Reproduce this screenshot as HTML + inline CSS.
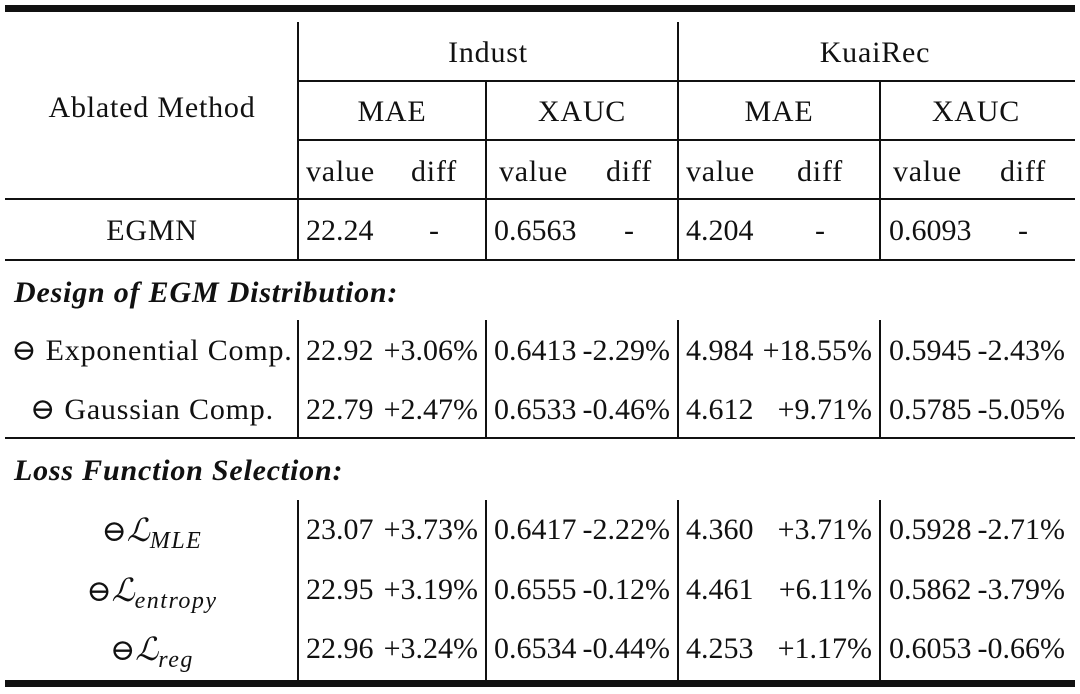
<!DOCTYPE html>
<html><head><meta charset="utf-8"><style>
body{margin:0;width:1080px;height:694px;background:#fff;position:relative;overflow:hidden;font-family:"Liberation Serif","DejaVu Serif",serif;color:#111;font-size:30px}
.h{position:absolute;background:#111;height:2px}
.v{position:absolute;background:#111;width:2px}
.t{position:absolute;line-height:30px;white-space:nowrap}
.w{letter-spacing:0.8px}
.c{transform:translateX(-50%)}
.r{transform:translateX(-100%)}
.sec{font-weight:bold;font-style:italic;letter-spacing:0.8px}
.L{font-family:"DejaVu Serif",serif;font-style:italic;font-size:32px}
sub{font-style:italic;font-size:24px;vertical-align:-7px;letter-spacing:1.5px}
</style></head><body>
<div class="h" style="left:5px;width:1070px;top:5px;height:7px"></div>
<div class="h" style="left:298px;width:777px;top:80px"></div>
<div class="h" style="left:298px;width:777px;top:139px"></div>
<div class="h" style="left:5px;width:1070px;top:198px"></div>
<div class="h" style="left:5px;width:1070px;top:259px"></div>
<div class="h" style="left:5px;width:1070px;top:437px"></div>
<div class="h" style="left:5px;width:1070px;top:680px;height:7px"></div>

<div class="v" style="left:297px;top:22px;height:238px"></div>
<div class="v" style="left:677px;top:22px;height:238px"></div>
<div class="v" style="left:485px;top:81px;height:179px"></div>
<div class="v" style="left:879px;top:81px;height:179px"></div>
<div class="v" style="left:297px;top:320px;height:118px"></div>
<div class="v" style="left:485px;top:320px;height:118px"></div>
<div class="v" style="left:677px;top:320px;height:118px"></div>
<div class="v" style="left:879px;top:320px;height:118px"></div>
<div class="v" style="left:297px;top:500px;height:180px"></div>
<div class="v" style="left:485px;top:500px;height:180px"></div>
<div class="v" style="left:677px;top:500px;height:180px"></div>
<div class="v" style="left:879px;top:500px;height:180px"></div>

<div class="t c w" style="left:152px;top:93px">Ablated Method</div>
<div class="t c w" style="left:488px;top:38px">Indust</div>
<div class="t c w" style="left:875px;top:38px">KuaiRec</div>
<div class="t c w" style="left:392px;top:97px">MAE</div>
<div class="t c w" style="left:582px;top:97px">XAUC</div>
<div class="t c w" style="left:779px;top:97px">MAE</div>
<div class="t c w" style="left:976px;top:97px">XAUC</div>

<div class="t w" style="left:306px;top:157px">value</div><div class="t c w" style="left:434px;top:157px">diff</div>
<div class="t w" style="left:499px;top:157px">value</div><div class="t c w" style="left:629px;top:157px">diff</div>
<div class="t w" style="left:686px;top:157px">value</div><div class="t c w" style="left:820px;top:157px">diff</div>
<div class="t w" style="left:893px;top:157px">value</div><div class="t c w" style="left:1023px;top:157px">diff</div>

<div class="t c w" style="left:152px;top:216px">EGMN</div>
<div class="t" style="left:306px;top:216px">22.24</div><div class="t c" style="left:434px;top:216px">-</div>
<div class="t" style="left:494px;top:216px">0.6563</div><div class="t c" style="left:629px;top:216px">-</div>
<div class="t" style="left:686px;top:216px">4.204</div><div class="t c" style="left:820px;top:216px">-</div>
<div class="t" style="left:889px;top:216px">0.6093</div><div class="t c" style="left:1023px;top:216px">-</div>

<div class="t sec" style="left:14px;top:278px">Design of EGM Distribution:</div>
<div class="t sec" style="left:14px;top:456px">Loss Function Selection:</div>

<div class="t c w" style="left:152px;top:336px">⊖ Exponential Comp.</div>
<div class="t" style="left:306px;top:336px">22.92</div><div class="t r" style="left:478px;top:336px">+3.06%</div>
<div class="t" style="left:494px;top:336px">0.6413</div><div class="t r" style="left:670px;top:336px">-2.29%</div>
<div class="t" style="left:686px;top:336px">4.984</div><div class="t r" style="left:872px;top:336px">+18.55%</div>
<div class="t" style="left:889px;top:336px">0.5945</div><div class="t r" style="left:1065px;top:336px">-2.43%</div>

<div class="t c w" style="left:152px;top:395px">⊖ Gaussian Comp.</div>
<div class="t" style="left:306px;top:395px">22.79</div><div class="t r" style="left:478px;top:395px">+2.47%</div>
<div class="t" style="left:494px;top:395px">0.6533</div><div class="t r" style="left:670px;top:395px">-0.46%</div>
<div class="t" style="left:686px;top:395px">4.612</div><div class="t r" style="left:872px;top:395px">+9.71%</div>
<div class="t" style="left:889px;top:395px">0.5785</div><div class="t r" style="left:1065px;top:395px">-5.05%</div>

<div class="t c" style="left:152px;top:515px">⊖<span class="L">ℒ</span><sub>MLE</sub></div>
<div class="t" style="left:306px;top:515px">23.07</div><div class="t r" style="left:478px;top:515px">+3.73%</div>
<div class="t" style="left:494px;top:515px">0.6417</div><div class="t r" style="left:670px;top:515px">-2.22%</div>
<div class="t" style="left:686px;top:515px">4.360</div><div class="t r" style="left:872px;top:515px">+3.71%</div>
<div class="t" style="left:889px;top:515px">0.5928</div><div class="t r" style="left:1065px;top:515px">-2.71%</div>

<div class="t c" style="left:152px;top:575px">⊖<span class="L">ℒ</span><sub>entropy</sub></div>
<div class="t" style="left:306px;top:575px">22.95</div><div class="t r" style="left:478px;top:575px">+3.19%</div>
<div class="t" style="left:494px;top:575px">0.6555</div><div class="t r" style="left:670px;top:575px">-0.12%</div>
<div class="t" style="left:686px;top:575px">4.461</div><div class="t r" style="left:872px;top:575px">+6.11%</div>
<div class="t" style="left:889px;top:575px">0.5862</div><div class="t r" style="left:1065px;top:575px">-3.79%</div>

<div class="t c" style="left:152px;top:634px">⊖<span class="L">ℒ</span><sub>reg</sub></div>
<div class="t" style="left:306px;top:634px">22.96</div><div class="t r" style="left:478px;top:634px">+3.24%</div>
<div class="t" style="left:494px;top:634px">0.6534</div><div class="t r" style="left:670px;top:634px">-0.44%</div>
<div class="t" style="left:686px;top:634px">4.253</div><div class="t r" style="left:872px;top:634px">+1.17%</div>
<div class="t" style="left:889px;top:634px">0.6053</div><div class="t r" style="left:1065px;top:634px">-0.66%</div>
</body></html>
